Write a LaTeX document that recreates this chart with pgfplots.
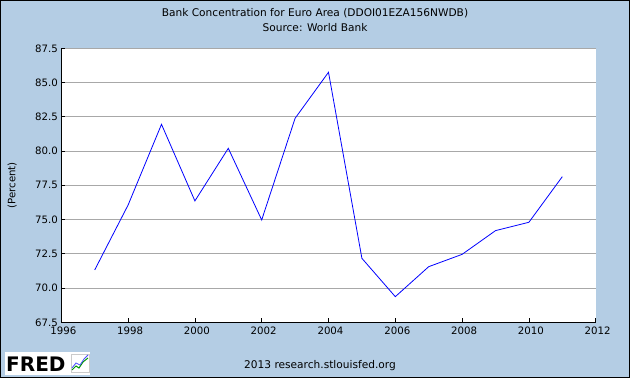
\documentclass[border=0pt]{standalone}
\usepackage{fontspec}
\setmainfont{DejaVu Sans}
\usepackage{pgfplots}
\pgfplotsset{compat=1.18}
\definecolor{bgblue}{HTML}{B4CDE4}
\definecolor{gridgray}{HTML}{A8A8A8}
\begin{document}
\begin{tikzpicture}[x=1pt,y=1pt]
\fill[bgblue] (0,0) rectangle (630,378);
\draw[black,line width=1pt] (0.5,0.5) rectangle (629.5,377.5);
\useasboundingbox (0,0) rectangle (630,378);
\node[font=\fontsize{10.6}{12}\selectfont] at (315,365) {Bank Concentration for Euro Area (DDOI01EZA156NWDB)};
\node[font=\fontsize{10.6}{12}\selectfont] at (315,350) {Source: World Bank};
\node[font=\fontsize{10.6}{12}\selectfont] at (320,12) {2013 research.stlouisfed.org};
\fill[white] (5,3) rectangle (90,26);
\node[font=\fontsize{20}{21}\selectfont\bfseries, anchor=west, inner sep=0pt] at (6,14) {FRED};
\draw[gridgray!60] (71,6) rectangle (89,24);
\draw[green!60!black, line width=1pt] (72,8) -- (76,12) -- (79,10) -- (83,16) -- (88,20);
\draw[blue!70, line width=0.8pt] (72,10) -- (76,15) -- (80,13) -- (84,19) -- (88,23);
\begin{axis}[
  at={(61.3pt,55.7pt)}, anchor=south west,
  scale only axis, width=534.4pt, height=274pt,
  xmin=1996, xmax=2012, ymin=67.5, ymax=87.5,
  xtick={1996,1998,...,2012},
  ytick={67.5,70,...,87.5},
  axis background/.style={fill=white},
  axis x line*=bottom, axis y line*=left,
  axis line style={black, line width=0.8pt, -},
  tick style={black, line width=0.8pt},
  major tick length=4pt,
  tick align=inside,
  ymajorgrids, grid style={gridgray, line width=0.8pt},
  x tick label style={/pgf/number format/1000 sep={}},
  y tick label style={/pgf/number format/.cd, fixed, fixed zerofill, precision=1},
  /pgf/number format/assume math mode=true,
  tick label style={font=\fontsize{10.2}{12}\selectfont},
  xticklabel style={yshift=-1pt, xshift=2pt},
  ylabel={(Percent)},
  ylabel style={at={(axis description cs:-0.0917,0.5)}, anchor=center, font=\fontsize{10.2}{12}\selectfont},
  clip=false,
]
\addplot[blue, line width=0.8pt] coordinates {
(1997,71.32) (1998,76.06) (1999,81.95) (2000,76.36) (2001,80.20)
(2002,74.97) (2003,82.39) (2004,85.75) (2005,72.17) (2006,69.37)
(2007,71.56) (2008,72.46) (2009,74.19) (2010,74.80) (2011,78.13)
};
\end{axis}
\end{tikzpicture}
\end{document}
